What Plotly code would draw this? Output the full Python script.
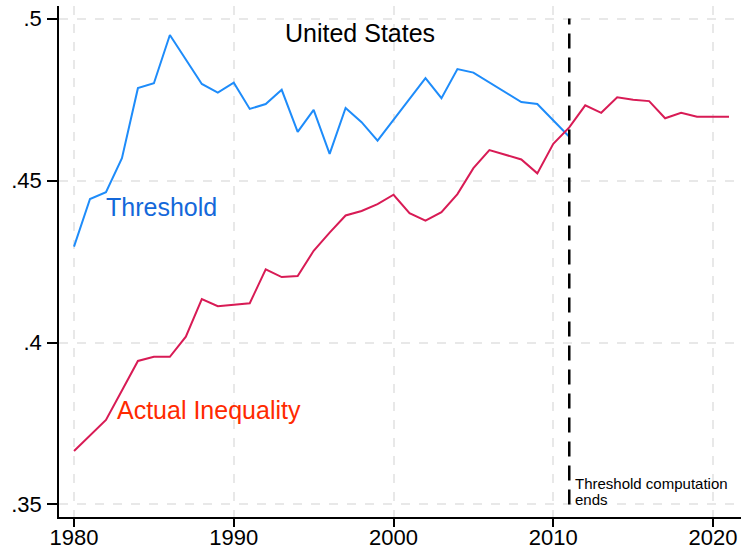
import plotly.graph_objects as go

# ---- data ----
threshold_years = list(range(1980, 2012))
threshold = [0.4296, 0.4443, 0.4464, 0.4569, 0.4785, 0.4800, 0.4949, 0.4874,
             0.4798, 0.4771, 0.4802, 0.4721, 0.4736, 0.4780, 0.4650, 0.4718,
             0.4582, 0.4724, 0.4680, 0.4623, 0.4688, 0.4752, 0.4816, 0.4754,
             0.4844, 0.4833, 0.4803, 0.4771, 0.4742, 0.4736, 0.4686, 0.4635]

actual_years = list(range(1980, 2022))
actual = [0.3665, 0.3714, 0.3761, 0.3852, 0.3943, 0.3956, 0.3956, 0.4018,
          0.4134, 0.4112, 0.4116, 0.4121, 0.4226, 0.4202, 0.4205, 0.4283,
          0.4339, 0.4392, 0.4406, 0.4427, 0.4456, 0.4399, 0.4376, 0.4402,
          0.4458, 0.4538, 0.4594, 0.4580, 0.4565, 0.4522, 0.4613, 0.4664,
          0.4732, 0.4709, 0.4757, 0.4749, 0.4745, 0.4692, 0.4709, 0.4697,
          0.4697, 0.4697]

x_ticks = [1980, 1990, 2000, 2010, 2020]
y_ticks = [0.35, 0.40, 0.45, 0.50]
y_ticktext = [".35", ".4", ".45", ".5"]

threshold_end_year = 2011
title_text = "United States"
threshold_label = "Threshold"
actual_label = "Actual Inequality"
end_note = ["Threshold computation", "ends"]

FONT = "Liberation Sans, Arial, sans-serif"

fig = go.Figure()

fig.add_trace(go.Scatter(x=threshold_years, y=threshold, mode="lines",
                         line=dict(color="#1E8CFA", width=2),
                         showlegend=False, hoverinfo="skip"))
fig.add_trace(go.Scatter(x=actual_years, y=actual, mode="lines",
                         line=dict(color="#D81B55", width=2),
                         showlegend=False, hoverinfo="skip"))
# vertical dashed reference line where threshold computation ends
fig.add_trace(go.Scatter(x=[threshold_end_year, threshold_end_year],
                         y=[min(y_ticks), max(y_ticks)], mode="lines",
                         line=dict(color="black", width=2.5, dash="15px,9px"),
                         showlegend=False, hoverinfo="skip"))

fig.add_annotation(x=1997.93, y=0.4955, text=title_text, showarrow=False,
                   xanchor="center", yanchor="middle",
                   font=dict(family=FONT, size=25, color="black"))
fig.add_annotation(x=1981.9, y=0.4417, text=threshold_label, showarrow=False,
                   xanchor="left", yanchor="middle",
                   font=dict(family=FONT, size=25, color="#1468DA"))
fig.add_annotation(x=1982.55, y=0.3792, text=actual_label, showarrow=False,
                   xanchor="left", yanchor="middle",
                   font=dict(family=FONT, size=25, color="#FF2A00"))
fig.add_annotation(x=2011.25, y=0.3565, text=end_note[0], showarrow=False,
                   xanchor="left", yanchor="middle",
                   font=dict(family=FONT, size=15, color="black"))
fig.add_annotation(x=2011.25, y=0.3515, text=end_note[1], showarrow=False,
                   xanchor="left", yanchor="middle",
                   font=dict(family=FONT, size=15, color="black"))

fig.update_layout(
    width=741, height=549,
    margin=dict(l=59, r=0, t=6, b=32),
    paper_bgcolor="white", plot_bgcolor="white",
    font=dict(family=FONT, size=22, color="black"),
    showlegend=False,
)
fig.update_xaxes(
    range=[1979.06, 2021.75], tickvals=x_ticks,
    ticks="outside", ticklen=8, tickwidth=1.5, tickcolor="black",
    ticklabelstandoff=-8,
    showline=True, linecolor="black", linewidth=1.5,
    showgrid=True, gridcolor="#E8E8E8", gridwidth=1.5, griddash="dash",
    zeroline=False, automargin=False,
    tickfont=dict(family=FONT, size=22, color="black"),
)
fig.update_yaxes(
    range=[0.34614, 0.50386], tickvals=y_ticks, ticktext=y_ticktext,
    ticks="outside", ticklen=10, tickwidth=1.5, tickcolor="black",
    ticklabelstandoff=1,
    showline=True, linecolor="black", linewidth=1.5,
    showgrid=True, gridcolor="#E8E8E8", gridwidth=1.5, griddash="dash",
    zeroline=False, automargin=False,
    tickfont=dict(family=FONT, size=22, color="black"),
)

fig.write_html("out.html", config={"displayModeBar": False},
               post_script="document.body.style.margin='0';document.body.style.padding='0';")
